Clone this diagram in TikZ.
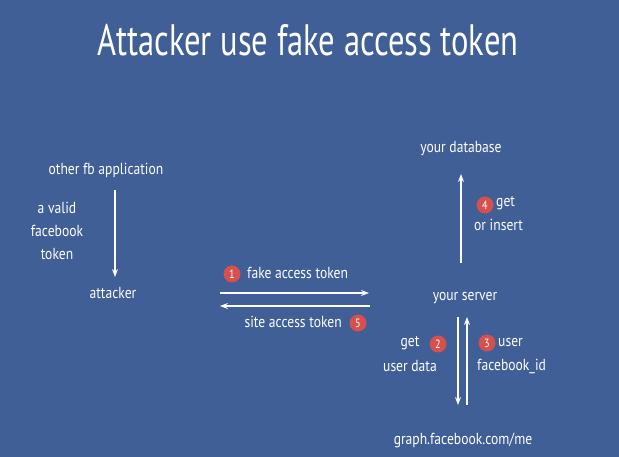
\documentclass[tikz,border=0pt]{standalone}
\usepackage{fontspec}
\setmainfont{PT Sans}[FakeStretch=0.85]
\newfontfamily\titlefont{PT Sans}[FakeStretch=0.74]
\usetikzlibrary{arrows.meta}
\definecolor{fbblue}{RGB}{63,95,150}
\definecolor{badgered}{RGB}{214,80,78}

\tikzset{
  lbl/.style={text=white, inner sep=1pt, font=\fontsize{16}{23}\selectfont},
  badge/.style={circle, fill=badgered, text=white, inner sep=0pt, minimum size=17pt,
    font=\fontsize{12}{12}\selectfont},
  flow/.style={->, white, line width=1.3pt}
}

\begin{document}
\begin{tikzpicture}[x=1pt,y=-1pt]
\fill[fbblue] (0,0) rectangle (619,457);
\begin{scope}[>={Stealth[scale=0.9]}]

% title
\node[text=white, font=\titlefont\fontsize{44}{48}\selectfont] (title) at (308,40) {Attacker use fake access token};

% left side
\node[lbl] (app) at (106,170) {other fb application};
\node[lbl] (attacker) at (113,293) {attacker};
\node[lbl, align=center] (validtok) at (57,231) {a valid\\facebook\\token};
\coordinate (s0) at (115,190);
\coordinate (e0) at (115,277);
\draw[flow] (s0) -- (e0);

% top right
\node[lbl] (db) at (461,149) {your database};
\node[lbl] (server) at (465,298) {your server};
\node[lbl] (graph) at (463,440) {graph.facebook.com/me};

\coordinate (s4) at (461,263);
\coordinate (e4) at (461,174);
\draw[flow] (s4) -- (e4);
\node[badge] (b4) at (485,205) {4};
\node[lbl, anchor=west] (get4) at (495,203) {get};
\node[lbl, anchor=west] (ins4) at (473,225) {or insert};

% middle arrows
\coordinate (s1) at (220,293);
\coordinate (e1) at (369,293);
\draw[flow] (s1) -- (e1);
\node[badge] (b1) at (232,274) {1};
\node[lbl, anchor=west] (fake) at (246,273) {fake access token};

\coordinate (s5) at (370,306);
\coordinate (e5) at (220,306);
\draw[flow] (s5) -- (e5);
\node[badge] (b5) at (358,323) {5};
\node[lbl, anchor=east] (site) at (343,322) {site access token};

% bottom right
\coordinate (s2) at (458,317);
\coordinate (e2) at (458,405);
\draw[flow] (s2) -- (e2);
\coordinate (s3) at (467,405);
\coordinate (e3) at (467,317);
\draw[flow] (s3) -- (e3);

\node[badge] (b2) at (438,344) {2};
\node[lbl] (get2) at (410,343) {get};
\node[lbl] (udata) at (410,366) {user data};
\node[badge] (b3) at (487,343) {3};
\node[lbl, anchor=west] (user3) at (497,342) {user};
\node[lbl, anchor=west] (fbid) at (476,366) {facebook\_id};

\end{scope}
\end{tikzpicture}
\end{document}
